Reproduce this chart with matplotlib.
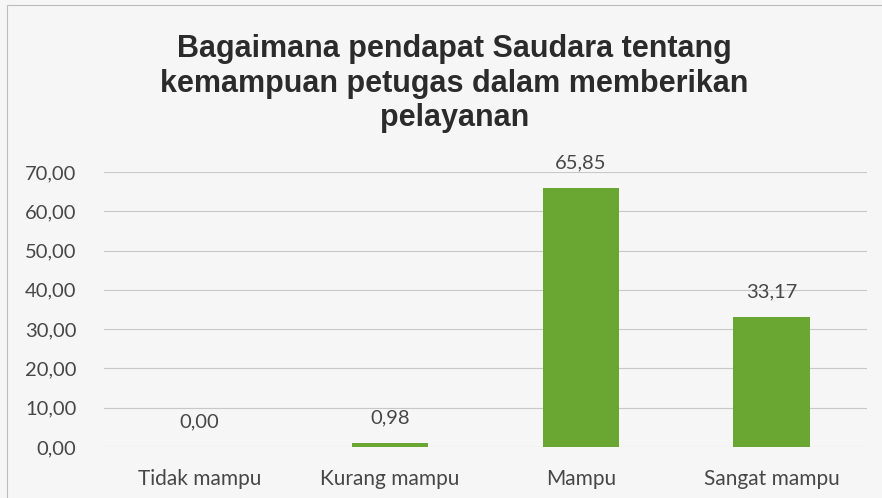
import matplotlib
matplotlib.use('Agg')
import matplotlib.pyplot as plt
from matplotlib.patches import Rectangle

# data
categories = ['Tidak mampu', 'Kurang mampu', 'Mampu', 'Sangat mampu']
values = [0.00, 0.98, 65.85, 33.17]
yticks = [0, 10, 20, 30, 40, 50, 60, 70]
title = 'Bagaimana pendapat Saudara tentang\nkemampuan petugas dalam memberikan\npelayanan'

bar_color = '#6aa632'
text_color = '#474747'
bg = '#f6f6f6'


def fmt(v):
    return f'{v:.2f}'.replace('.', ',')


fig = plt.figure(figsize=(8.82, 4.98), dpi=100, facecolor=bg)
ax = fig.add_axes([0.118, 0.1024, 0.865, 0.5522], facecolor=bg)

# chart frame (only top and left edges visible in the scan)
fig.patches.append(Rectangle((0.008, -0.05), 1.2, 1.04, transform=fig.transFigure,
                             fill=False, edgecolor='#bdbdbd', lw=0.8))

x = range(len(categories))
bars = ax.bar(x, values, width=0.40, color=bar_color, zorder=3)

for xi, v in zip(x, values):
    ax.annotate(fmt(v), (xi, v), xytext=(0, 12), textcoords='offset points',
                ha='center', va='bottom', fontsize=14.5, color=text_color,
                family='Lato', annotation_clip=False)

ax.set_xlim(-0.5, len(categories) - 0.5)
ax.set_ylim(0, 70)
ax.set_yticks(yticks)
ax.set_yticklabels([fmt(t) for t in yticks], fontsize=14.5, color=text_color, family='Lato')
ax.set_xticks(list(x))
ax.set_xticklabels(categories, fontsize=15, color=text_color, family='Lato')
ax.tick_params(axis='both', length=0)
ax.tick_params(axis='y', pad=20)
ax.tick_params(axis='x', pad=16)
ax.grid(axis='y', color='#c8c8c8', lw=0.8, zorder=0)
for s in ax.spines.values():
    s.set_visible(False)

fig.text(0.515, 0.832, title, ha='center', va='center', fontsize=22,
         fontweight='bold', family='Liberation Sans', color='#2b2b2b',
         linespacing=1.2)

fig.savefig('out.png', dpi=100, facecolor=bg)
